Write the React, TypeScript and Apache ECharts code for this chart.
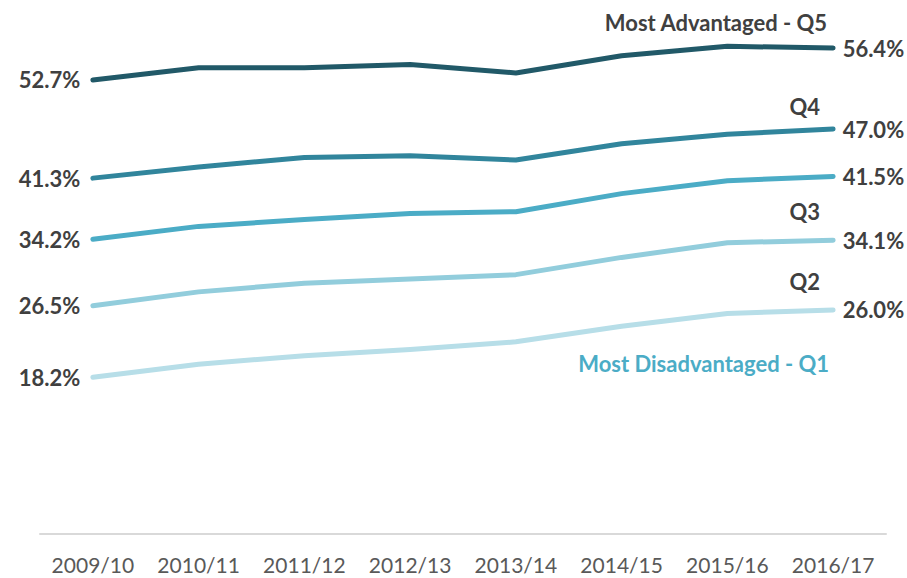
import React, { useEffect, useRef } from "react";
import * as echarts from "echarts";

const categories = ["2009/10", "2010/11", "2011/12", "2012/13", "2013/14", "2014/15", "2015/16", "2016/17"];
const q5 = [52.7, 54.1, 54.1, 54.5, 53.5, 55.5, 56.6, 56.4];
const q4 = [41.3, 42.6, 43.7, 43.9, 43.4, 45.3, 46.4, 47.0];
const q3 = [34.2, 35.7, 36.5, 37.2, 37.4, 39.5, 41.0, 41.5];
const q2 = [26.5, 28.1, 29.1, 29.6, 30.1, 32.1, 33.8, 34.1];
const q1 = [18.2, 19.7, 20.7, 21.4, 22.3, 24.1, 25.6, 26.0];
const seriesNames = ["Quintile 5", "Quintile 4", "Quintile 3", "Quintile 2", "Quintile 1"];
const seriesValues = [q5, q4, q3, q2, q1];
const nameLabels = ["Most Advantaged - Q5", "Q4", "", "Q3", "Q2"];
const bottomNameLabel = "Most Disadvantaged - Q1";

const COLORS = ["#215968", "#31859c", "#4bacc6", "#92cddc", "#b7dee8"];
const FONT = "Lato, 'Open Sans', sans-serif";
const TEXT = "#404040";

export default function App() {
  const ref = useRef<HTMLDivElement>(null);
  useEffect(() => {
    if (!ref.current) return;
    const chart = echarts.init(ref.current, undefined, { renderer: "svg" });
    const last = categories.length - 1;
    const labelOffsets: number[][] = [[-6, -26], [-13, -23], [0, 0], [-13, -29], [-13, -28]];
    const series: any[] = seriesValues.map((vals, si) => {
      const markData: any[] = [];
      if (nameLabels[si]) {
        markData.push({
          coord: [last, vals[last]],
          label: {
            show: true,
            formatter: nameLabels[si],
            position: "inside",
            align: "right",
            verticalAlign: "middle",
            offset: labelOffsets[si],
            color: TEXT,
            fontFamily: FONT,
            fontWeight: "bold",
            fontSize: 22,
          },
        });
      }
      if (si === 4) {
        markData.push({
          coord: [last, vals[last]],
          label: {
            show: true,
            formatter: bottomNameLabel,
            position: "inside",
            align: "right",
            verticalAlign: "middle",
            offset: [-4, 54],
            color: "#4bacc6",
            fontFamily: FONT,
            fontWeight: "bold",
            fontSize: 22,
          },
        });
      }
      return {
        name: seriesNames[si],
        type: "line",
        data: vals.map((v, i) => ({
          value: v,
          label: {
            show: i === 0 || i === last,
            position: i === 0 ? "left" : "right",
            distance: i === 0 ? 12 : 9,
            formatter: (p: any) => p.value.toFixed(1) + "%",
            color: TEXT,
            fontFamily: FONT,
            fontWeight: "bold",
            fontSize: 22,
          },
        })),
        symbol: "circle",
        symbolSize: 1,
        showSymbol: true,
        itemStyle: { color: COLORS[si] },
        lineStyle: { color: COLORS[si], width: 5, cap: "round", join: "round" },
        markPoint: {
          symbol: "circle",
          symbolSize: 0,
          silent: true,
          data: markData,
        },
        z: 10 - si,
      };
    });
    chart.setOption({
      animation: false,
      backgroundColor: "#ffffff",
      grid: { left: 40, right: 21, top: 17, bottom: 44, containLabel: false },
      xAxis: {
        type: "category",
        data: categories,
        boundaryGap: true,
        axisLine: { show: true, lineStyle: { color: "#d9d9d9", width: 2 } },
        axisTick: { show: false },
        axisLabel: { color: "#595959", fontFamily: FONT, fontSize: 21, margin: 20, interval: 0 },
      },
      yAxis: {
        type: "value",
        min: 0,
        max: 60,
        interval: 10,
        show: false,
        splitLine: { show: false },
      },
      series,
    });
    return () => chart.dispose();
  }, []);
  return (
    <div
      ref={ref}
      style={{ position: "fixed", left: 0, top: 0, width: 907, height: 578, background: "#fff" }}
    />
  );
}
